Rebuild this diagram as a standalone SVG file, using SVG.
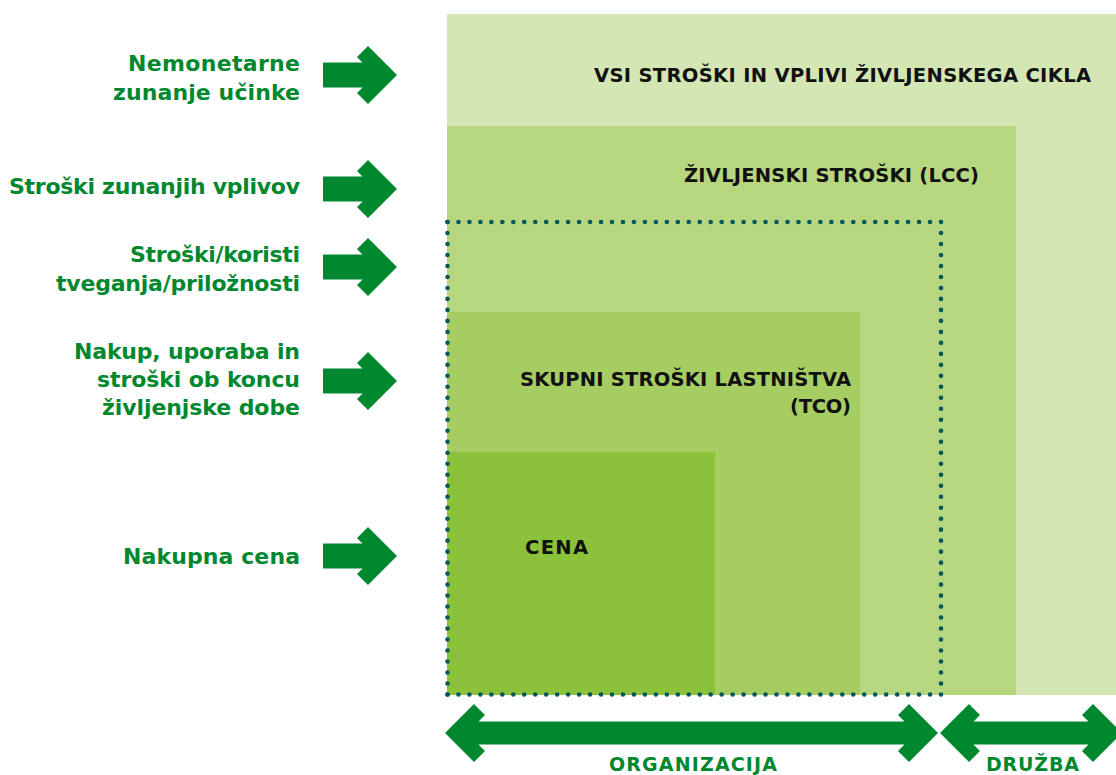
<svg xmlns="http://www.w3.org/2000/svg" width="1116" height="775" viewBox="0 0 1116 775">
  <style>
    .lbl { font-family: "DejaVu Sans", "Noto Sans", sans-serif; font-weight: 700; font-size: 22px; fill: #00882f; text-anchor: end; }
    .box { font-family: "DejaVu Sans", "Noto Sans", sans-serif; font-weight: 700; font-size: 19.5px; fill: #111111; }
    .bot { font-family: "DejaVu Sans", "Noto Sans", sans-serif; font-weight: 700; font-size: 19px; fill: #00882f; }
    .arr { fill: #00882f; }
    .dots { stroke: #03585c; stroke-width: 4.6; stroke-linecap: round; fill: none; }
  </style>

  <g id="box-all">
    <rect x="447" y="14" width="669" height="681" fill="#d3e6b3"/>
    <text class="box" x="594" y="82" textLength="497">VSI STROŠKI IN VPLIVI ŽIVLJENSKEGA CIKLA</text>
  </g>
  <g id="box-lcc">
    <rect x="447" y="126" width="569" height="569" fill="#b6d77f"/>
    <text class="box" x="684" y="182" textLength="295">ŽIVLJENSKI STROŠKI (LCC)</text>
  </g>
  <g id="box-tco">
    <rect x="447" y="312" width="413" height="383" fill="#a6cd62"/>
    <text class="box" x="520" y="386" textLength="331">SKUPNI STROŠKI LASTNIŠTVA</text>
    <text class="box" x="790" y="413" textLength="61">(TCO)</text>
  </g>
  <g id="box-cena">
    <rect x="447" y="452" width="268" height="243" fill="#8cc23a"/>
    <text class="box" x="525" y="554" textLength="63">CENA</text>
  </g>

  <g id="org-boundary">
    <line class="dots" x1="447.5" y1="222" x2="941" y2="222" stroke-dasharray="0 10.967"/>
    <line class="dots" x1="447.5" y1="694.5" x2="941" y2="694.5" stroke-dasharray="0 10.967"/>
    <line class="dots" x1="447.5" y1="222" x2="447.5" y2="694.5" stroke-dasharray="0 10.988"/>
    <line class="dots" x1="941" y1="222" x2="941" y2="694.5" stroke-dasharray="0 10.988"/>
  </g>

  <g id="label-nemonetarne">
    <text class="lbl" x="300" y="71" textLength="172">Nemonetarne</text>
    <text class="lbl" x="300" y="100" textLength="187">zunanje učinke</text>
  </g>
  <g id="label-zunanji">
    <text class="lbl" x="300" y="194" textLength="291">Stroški zunanjih vplivov</text>
  </g>
  <g id="label-tveganja">
    <text class="lbl" x="300" y="262" textLength="170">Stroški/koristi</text>
    <text class="lbl" x="300" y="291" textLength="244">tveganja/priložnosti</text>
  </g>
  <g id="label-nakup">
    <text class="lbl" x="300" y="359" textLength="226">Nakup, uporaba in</text>
    <text class="lbl" x="300" y="387" textLength="203">stroški ob koncu</text>
    <text class="lbl" x="300" y="415" textLength="198">življenjske dobe</text>
  </g>
  <g id="label-cena">
    <text class="lbl" x="300" y="564" textLength="177">Nakupna cena</text>
  </g>

  <g id="connectors">
    <path class="arr" d="M323 62.5 H362.5 L357 57 L368 46 L397 75 L368 104 L357 93 L362.5 87.5 H323 Z"/>
    <path class="arr" d="M323 176.5 H362.5 L357 171 L368 160 L397 189 L368 218 L357 207 L362.5 201.5 H323 Z"/>
    <path class="arr" d="M323 254.5 H362.5 L357 249 L368 238 L397 267 L368 296 L357 285 L362.5 279.5 H323 Z"/>
    <path class="arr" d="M323 368.5 H362.5 L357 363 L368 352 L397 381 L368 410 L357 399 L362.5 393.5 H323 Z"/>
    <path class="arr" d="M323 543.5 H362.5 L357 538 L368 527 L397 556 L368 585 L357 574 L362.5 568.5 H323 Z"/>
    <path class="arr" d="M445 733 L474 704 L485 715 L478.5 721.5 H904.5 L898 715 L909 704 L938 733 L909 762 L898 751 L904.5 744.5 H478.5 L485 751 L474 762 Z"/>
    <path class="arr" d="M940 733 L969 704 L980 715 L973.5 721.5 H1088.5 L1082 715 L1093 704 L1122 733 L1093 762 L1082 751 L1088.5 744.5 H973.5 L980 751 L969 762 Z"/>
  </g>

  <g id="label-organizacija">
    <text class="bot" x="609" y="771" textLength="168">ORGANIZACIJA</text>
  </g>
  <g id="label-druzba">
    <text class="bot" x="986" y="771" textLength="93">DRUŽBA</text>
  </g>
</svg>
